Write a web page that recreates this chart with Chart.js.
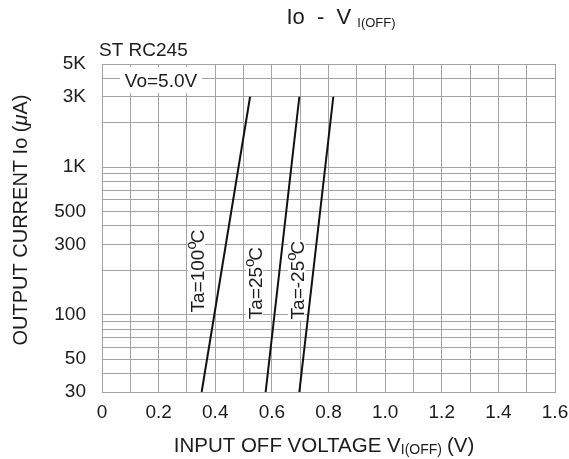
<!DOCTYPE html>
<html>
<head>
<meta charset="utf-8">
<script src="https://cdn.jsdelivr.net/npm/chart.js@4.4.1/dist/chart.umd.min.js"></script>
<style>
  html, body { margin: 0; padding: 0; background: #fff; }
  canvas { display: block; }
</style>
</head>
<body>
<canvas id="ioChart" width="569" height="459"></canvas>
<script>
// Io - V_I(OFF) curves, ST RC245 (log current vs input off voltage)
const currentEnds = [30, 3000];               // uA at the two ends of every line
const voltsTa100 = [0.352, 0.523];
const voltsTa25 = [0.578, 0.697];
const voltsTaMinus25 = [0.697, 0.817];
const tempNames = ['100', '25', '-25'];

const yGridValues = [30, 40, 50, 60, 70, 80, 90, 100, 200, 300, 400, 500, 600, 700, 800, 900,
    1000, 2000, 3000, 4000, 5000];
const yTickText = { 30: '30', 50: '50', 100: '100', 300: '300', 500: '500', 1000: '1K', 3000: '3K', 5000: '5K' };
const xTickText = ['0', '0.2', '0.4', '0.6', '0.8', '1.0', '1.2', '1.4', '1.6'];

const FONT = "'Liberation Sans', Arial, sans-serif";
const INK = '#1c1c1c';
const GRID = '#a3a3a3';

function toPoints(volts) {
    return volts.map((v, i) => ({ x: v, y: currentEnds[i] }));
}

// draw a row of text runs (for subscripts / superscripts)
function drawRuns(ctx, runs, x, y, align) {
    let total = 0;
    runs.forEach(r => {
        ctx.font = `${r.italic ? 'italic ' : ''}${r.size}px ${FONT}`;
        r.w = ctx.measureText(r.text).width;
        total += r.w + (r.gap || 0);
    });
    let cx = align === 'center' ? x - total / 2 : x;
    runs.forEach(r => {
        ctx.font = `${r.italic ? 'italic ' : ''}${r.size}px ${FONT}`;
        ctx.fillText(r.text, cx, y + (r.dy || 0));
        cx += r.w + (r.gap || 0);
    });
    return total;
}

const textPlugin = {
    id: 'sheetText',
    beforeDatasetsDraw(chart) {
        const ctx = chart.ctx;
        const xs = chart.scales.x, ys = chart.scales.y;
        ctx.save();
        ctx.textBaseline = 'alphabetic';
        ctx.textAlign = 'left';

        // condition box
        ctx.fillStyle = '#fff';
        ctx.fillRect(120, 67, 82, 26);
        ctx.fillStyle = INK;
        drawRuns(ctx, [{ text: 'Vo=5.0V', size: 19 }], 161, 87, 'center');

        // rotated temperature labels
        const anchors = [{ x: 0.3355, y: 198 }, { x: 0.540, y: 164 }, { x: 0.689, y: 172 }];
        tempNames.forEach((t, i) => {
            const px = xs.getPixelForValue(anchors[i].x);
            const py = ys.getPixelForValue(anchors[i].y);
            const runs = [
                { text: 'Ta=' + t, size: 19 },
                { text: 'o', size: 15, dy: -8, gap: -2 },
                { text: 'C', size: 19 }
            ];
            let w = 0;
            runs.forEach(r => { ctx.font = `${r.size}px ${FONT}`; w += ctx.measureText(r.text).width + (r.gap || 0); });
            ctx.save();
            ctx.translate(px, py);
            ctx.rotate(-Math.PI / 2);
            ctx.fillStyle = '#fff';
            ctx.fillRect(-w / 2 - 1, -9, w + 2, 17);
            ctx.fillStyle = INK;
            drawRuns(ctx, runs, 0, 7, 'center');
            ctx.restore();
        });
        ctx.restore();
    },
    afterDraw(chart) {
        const ctx = chart.ctx;
        ctx.save();
        ctx.fillStyle = INK;
        ctx.textBaseline = 'alphabetic';
        ctx.textAlign = 'left';

        // title
        drawRuns(ctx, [
            { text: 'Io  -  V', size: 22, gap: 6 },
            { text: 'I(OFF)', size: 13, dy: 3 }
        ], 341, 24, 'center');

        // part name
        drawRuns(ctx, [{ text: 'ST RC245', size: 19 }], 99, 56, 'left');

        // x axis title
        drawRuns(ctx, [
            { text: 'INPUT OFF VOLTAGE V', size: 20.5 },
            { text: 'I(OFF)', size: 14, dy: 2, gap: 5 },
            { text: '(V)', size: 20.5 }
        ], 324, 452, 'center');

        // y axis title
        ctx.translate(27, 220);
        ctx.rotate(-Math.PI / 2);
        drawRuns(ctx, [
            { text: 'OUTPUT CURRENT Io (', size: 20 },
            { text: '\u03bc', size: 20, italic: true },
            { text: 'A)', size: 20 }
        ], 0, 0, 'center');
        ctx.restore();
    }
};

const lineStyle = {
    borderColor: '#111',
    backgroundColor: '#111',
    borderWidth: 2,
    pointRadius: 0,
    showLine: true,
    fill: false
};

new Chart(document.getElementById('ioChart'), {
    type: 'scatter',
    data: {
        datasets: [
            { label: 'Ta=100', data: toPoints(voltsTa100), ...lineStyle },
            { label: 'Ta=25', data: toPoints(voltsTa25), ...lineStyle },
            { label: 'Ta=-25', data: toPoints(voltsTaMinus25), ...lineStyle }
        ]
    },
    options: {
        responsive: false,
        animation: false,
        layout: { padding: { top: 64, right: 14, left: 0, bottom: 0 } },
        plugins: {
            legend: { display: false },
            tooltip: { enabled: false }
        },
        scales: {
            x: {
                type: 'linear',
                min: 0,
                max: 1.6,
                afterFit: (scale) => {
                    scale.height = 67;
                    scale.paddingLeft = 0;
                    scale.paddingRight = 0;
                },
                grid: { color: GRID, lineWidth: 1, drawTicks: false },
                border: { color: GRID },
                ticks: {
                    stepSize: 0.1,
                    autoSkip: false,
                    maxRotation: 0,
                    padding: 9,
                    color: INK,
                    font: { family: FONT, size: 19 },
                    callback: (value, index) => index % 2 === 0 ? xTickText[index / 2] : ''
                }
            },
            y: {
                type: 'logarithmic',
                min: 30,
                max: 5000,
                afterFit: (scale) => {
                    scale.width = 102;
                    scale.paddingTop = 0;
                    scale.paddingBottom = 0;
                },
                afterBuildTicks: (scale) => {
                    scale.ticks = yGridValues.map(v => ({ value: v }));
                },
                grid: { color: GRID, lineWidth: 1, drawTicks: false },
                border: { color: GRID },
                ticks: {
                    autoSkip: false,
                    padding: 16,
                    color: INK,
                    font: { family: FONT, size: 19 },
                    callback: (value) => yTickText[value] ?? ''
                }
            }
        }
    },
    plugins: [textPlugin]
});
</script>
</body>
</html>
